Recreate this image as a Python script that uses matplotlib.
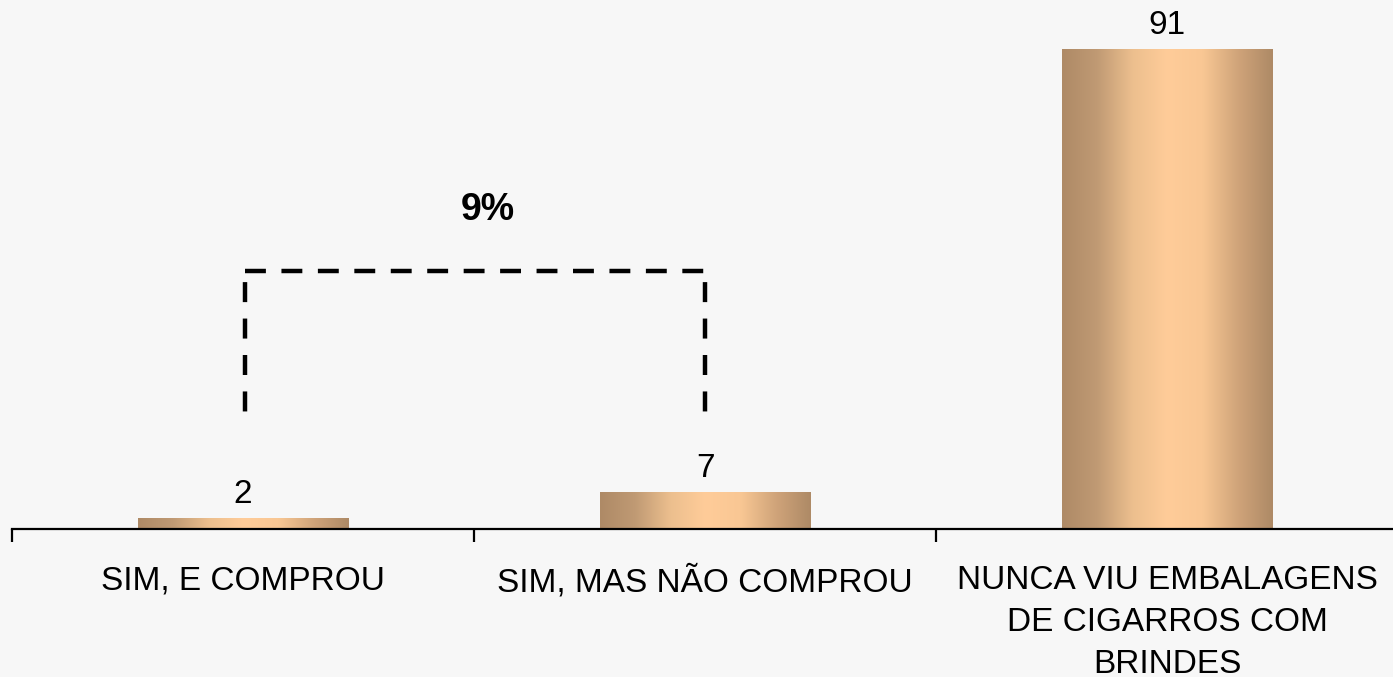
import numpy as np
import matplotlib
matplotlib.use("Agg")
import matplotlib.pyplot as plt
from matplotlib.colors import LinearSegmentedColormap

plt.rcParams['font.family'] = ['Liberation Sans', 'DejaVu Sans']

categories = ["SIM, E COMPROU", "SIM, MAS NÃO COMPROU",
              "NUNCA VIU EMBALAGENS\nDE CIGARROS COM\nBRINDES"]
values = [2, 7, 91]
bracket_label = "9%"

bg = "#f7f7f7"
fig = plt.figure(figsize=(13.93, 6.77), dpi=100, facecolor=bg)
ax = fig.add_axes([12 / 1393, 148 / 677, 1386 / 1393, 529 / 677])
ax.set_facecolor(bg)

x = np.arange(len(categories))
bars = ax.bar(x, values, width=0.455, color="none", edgecolor="none")

# horizontal gradient on each bar
cmap = LinearSegmentedColormap.from_list(
    "gold", ["#ae8a66", "#c09a74", "#ecbf8e", "#ffcc99", "#f9c794", "#d0a47a", "#ae8a66"])
grad = np.linspace(0, 1, 256).reshape(1, -1)
for b in bars:
    x0, y0 = b.get_x(), b.get_y()
    w, h = b.get_width(), b.get_height()
    im = ax.imshow(grad, cmap=cmap, aspect="auto", extent=[x0, x0 + w, y0, y0 + h],
                   interpolation="bicubic", zorder=2)
    im.set_clip_path(b)

for xi, v in zip(x, values):
    ax.annotate(str(v), (xi, v), xytext=(0, 6), textcoords="offset points",
                ha="center", va="bottom", fontsize=24)

ax.set_xlim(-0.5, 2.5)
ax.set_ylim(0, 100.3)

# dashed bracket grouping the first two bars
top, bottom = 48.9, 22.2
ax.plot([0.005, 1.0], [top, top], color="black", lw=3.2,
        linestyle=(0, (4.7, 3.5)), zorder=3)
for bx in [0.005, 1.0]:
    ax.plot([bx, bx], [top, bottom], color="black", lw=3.2,
            linestyle=(5.7, (4.5, 3.7)), zorder=3)
ax.text(0.53, 60.5, bracket_label, ha="center", va="center", fontsize=27, fontweight="bold")

for s in ["top", "right", "left"]:
    ax.spines[s].set_visible(False)
ax.spines["bottom"].set_linewidth(1.6)
ax.spines["bottom"].set_zorder(4)
ax.set_yticks([])
ax.set_xticks(x)
ax.set_xticklabels(categories, fontsize=24, linespacing=1.45)
ax.tick_params(axis="x", which="major", length=0, pad=26)
ax.set_xticks([-0.5, 0.5, 1.5, 2.5], minor=True)
ax.tick_params(axis="x", which="minor", length=9, width=1.6, direction="out")

fig.savefig("out.png", dpi=100, facecolor=bg)
